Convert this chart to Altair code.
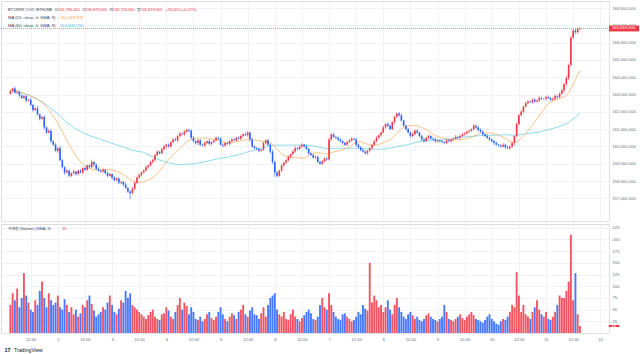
import altair as alt
import pandas as pd

# ---------------- data (prices in million KRW, wicks in 10,000 KRW) ----------------
first_open = 163.05
start_hour = 3  # first candle: day 1, 03:00 (hours counted from day 1 00:00)

closes = [
    163.20, 163.35, 163.10, 163.15, 162.95, 162.80, 162.90, 162.65, 162.70, 162.40,
    162.10, 162.20, 161.85, 161.60, 161.70, 161.10, 160.80, 160.90, 160.30, 160.10,
    159.75, 159.90, 159.20, 158.80, 158.50, 158.60, 158.30, 158.45, 158.55, 158.40,
    158.60, 158.50, 158.75, 158.65, 158.90, 158.80, 159.10, 158.95, 158.70, 158.60,
    158.55, 158.65, 158.45, 158.30, 158.40, 158.20, 158.05, 158.15, 157.90, 157.95,
    157.80, 157.60, 157.40, 157.30, 157.55, 157.90, 158.20, 158.35, 158.50, 158.60,
    158.80, 158.90, 159.10, 159.20, 159.50, 159.70, 159.60, 159.85, 160.00, 160.10,
    160.00, 160.25, 160.40, 160.35, 160.60, 160.75, 160.70, 160.85, 160.95, 160.90,
    160.50, 160.30, 160.20, 160.35, 160.10, 160.05, 160.20, 160.30, 160.15, 160.25,
    160.35, 160.50, 160.45, 160.10, 160.05, 160.20, 160.15, 160.30, 160.40, 160.35,
    160.50, 160.45, 160.60, 160.70, 160.65, 160.80, 160.40, 160.00, 159.90, 159.85,
    159.75, 159.80, 160.20, 160.35, 160.10, 159.70, 159.10, 158.50, 158.30, 158.60,
    158.90, 159.05, 159.20, 159.40, 159.55, 159.70, 159.90, 159.85, 160.00, 160.10,
    160.00, 159.85, 159.60, 159.50, 159.35, 159.40, 159.10, 159.00, 159.15, 159.30,
    159.25, 160.40, 160.70, 160.55, 160.50, 160.40, 160.30, 160.20, 160.10, 160.25,
    160.35, 160.45, 160.40, 160.10, 159.95, 159.80, 159.70, 159.60, 159.75, 159.90,
    160.10, 160.30, 160.50, 160.65, 160.80, 161.10, 161.30, 161.20, 161.00, 161.40,
    161.70, 161.90, 161.80, 161.50, 161.20, 161.00, 160.80, 160.60, 160.70, 160.90,
    160.80, 160.60, 160.40, 160.30, 160.50, 160.60, 160.45, 160.40, 160.30, 160.35,
    160.30, 160.25, 160.20, 160.35, 160.30, 160.40, 160.45, 160.55, 160.50, 160.60,
    160.70, 160.75, 160.85, 160.90, 161.00, 161.20, 161.10, 160.95, 160.85, 160.70,
    160.60, 160.50, 160.40, 160.30, 160.20, 160.10, 160.05, 160.00, 160.10, 159.95,
    159.90, 160.00, 160.20, 160.60, 161.30, 161.80, 162.00, 162.30, 162.50, 162.60,
    162.55, 162.70, 162.60, 162.65, 162.80, 162.75, 162.75, 162.85, 162.80, 162.70,
    162.75, 162.90, 162.85, 163.05, 163.25, 163.60, 163.95, 164.70, 166.30, 166.70,
    166.60, 166.786, 166.819,
]

wick_hi = [
    8, 5, 12, 6, 10, 4, 9, 7, 5, 11,
    6, 8, 14, 5, 7, 10, 6, 12, 8, 5,
    9, 6, 15, 7, 5, 10, 8, 6, 12, 4,
    7, 9, 5, 11, 6, 8, 13, 5, 7, 10,
    6, 9, 5, 12, 8, 4, 10, 7, 6, 9,
    5, 14, 8, 6, 11, 7, 5, 10, 6, 8,
    12, 5, 7, 9, 6, 10, 4, 8, 11, 6,
    7, 5, 9, 13, 6, 8, 5, 10, 7, 6,
    8, 11, 5, 7, 10, 6, 9, 4, 12, 7,
    5, 8, 6, 10, 7, 5, 9, 6, 11, 8,
    6, 9, 7, 5, 10, 8, 6, 12, 5, 7,
    9, 6, 8, 5, 10, 7, 11, 6, 8, 5,
    9, 7, 6, 10, 5, 8, 12, 6, 7, 9,
    5, 11, 8, 6, 7, 10, 5, 9, 6, 8,
    7, 10, 5, 8, 6, 9, 11, 5, 7, 6,
    8, 10, 5, 9, 7, 6, 12, 8, 5, 7,
    6, 8, 10, 5, 7, 9, 6, 11, 8, 5,
    7, 6, 9, 10, 5, 8, 7, 6, 12, 9,
    8, 5, 7, 10, 6, 9, 5, 8, 11, 7,
    6, 9, 5, 8, 10, 6, 7, 12, 5, 8,
    7, 9, 6, 8, 5, 10, 7, 6, 9, 8,
    5, 11, 7, 6, 8, 10, 5, 7, 9, 6,
    10, 6, 8, 5, 9, 7, 12, 6, 8, 10,
    5, 7, 9, 6, 11, 8, 5, 7, 10, 6,
    8, 12, 6, 7, 10, 5, 15, 9, 6, 8,
    12, 10, 6,
]

wick_lo = [
    6, 9, 5, 8, 12, 7, 5, 10, 6, 8,
    11, 5, 7, 9, 6, 13, 8, 5, 10, 7,
    6, 12, 5, 8, 15, 7, 9, 6, 5, 10,
    8, 6, 11, 5, 7, 9, 6, 12, 8, 5,
    7, 10, 6, 8, 5, 11, 7, 6, 9, 8,
    12, 6, 9, 35, 7, 5, 8, 6, 10, 7,
    5, 8, 6, 10, 7, 9, 6, 5, 8, 11,
    6, 9, 7, 5, 10, 8, 6, 9, 5, 7,
    10, 6, 8, 12, 7, 5, 9, 6, 8, 10,
    5, 7, 9, 6, 11, 8, 6, 10, 7, 5,
    8, 6, 10, 7, 5, 9, 12, 8, 6, 7,
    9, 7, 5, 8, 6, 10, 12, 25, 9, 6,
    7, 9, 6, 8, 10, 5, 7, 9, 6, 8,
    6, 8, 10, 7, 5, 9, 6, 8, 10, 7,
    9, 6, 8, 5, 7, 10, 6, 9, 7, 8,
    5, 9, 7, 10, 6, 8, 5, 7, 9, 6,
    8, 7, 9, 6, 10, 5, 8, 9, 7, 6,
    10, 6, 8, 5, 7, 9, 6, 10, 8, 5,
    6, 9, 7, 8, 5, 10, 7, 6, 9, 8,
    9, 5, 8, 7, 6, 9, 10, 5, 8, 6,
    7, 8, 6, 9, 5, 7, 8, 10, 6, 9,
    8, 6, 10, 7, 9, 6, 5, 8, 7, 10,
    6, 9, 7, 12, 8, 10, 6, 9, 7, 8,
    5, 8, 10, 7, 9, 6, 8, 10, 7, 9,
    8, 10, 12, 9, 7, 15, 10, 12, 8, 9,
    10, 8, 6,
]

volumes = [
    60, 85, 70, 95, 55, 75, 128, 80, 65, 50,
    45, 70, 60, 90, 110, 75, 55, 85, 70, 60,
    65, 80, 55, 50, 72, 60, 45, 55, 40, 50,
    35, 42, 60, 55, 70, 80, 62, 48, 35, 40,
    45, 55, 50, 65, 80, 60, 45, 40, 52, 70,
    65, 90, 75, 85, 60, 55, 50, 45, 40, 35,
    30, 38, 45, 50, 35, 30, 28, 40, 42, 55,
    48, 35, 30, 45, 60, 75, 50, 65, 58, 40,
    55, 45, 30, 28, 35, 25, 30, 40, 45, 32,
    28, 35, 45, 55, 40, 30, 25, 35, 42, 38,
    30, 45, 50, 60, 40, 35, 48, 55, 40, 38,
    30, 42, 55, 35, 60, 75, 80, 85, 50, 40,
    35, 45, 30, 28, 40, 50, 35, 30, 25, 32,
    38, 45, 50, 42, 30, 28, 35, 60, 75, 55,
    50, 85, 60, 45, 35, 30, 28, 40, 42, 35,
    30, 25, 28, 35, 45, 40, 60, 52, 48, 150,
    65, 80, 70, 55, 60, 45, 55, 70, 50, 40,
    60, 75, 55, 45, 35, 30, 40, 45, 38, 30,
    35, 28, 25, 30, 38, 42, 35, 30, 28, 25,
    30, 35, 60, 45, 30, 28, 25, 30, 35, 40,
    32, 28, 35, 40, 45, 38, 30, 28, 25, 22,
    28, 35, 40, 30, 25, 20, 18, 25, 30, 28,
    35, 45, 60, 55, 130, 80, 45, 60, 40, 35,
    30, 45, 55, 70, 50, 40, 35, 45, 30, 28,
    35, 45, 60, 80, 75, 75, 90, 110, 210, 70,
    128, 40, 15,
]

ma15_last = 164318933
ma60_last = 161849750
price_ticks = [v * 1_000_000 for v in range(157, 169)]
vol_ticks = [25, 50, 75, 100, 125, 150, 175, 200, 225]
time_ticks = list(range(12, 265, 12))

# ---------------- build table ----------------
rows = []
prev = first_open
for i, c in enumerate(closes):
    o = prev
    h = max(o, c) + wick_hi[i] / 100
    lo = min(o, c) - wick_lo[i] / 100
    rows.append(dict(t=start_hour + i, o=round(o * 1e6), h=round(h * 1e6),
                     l=round(lo * 1e6), c=round(c * 1e6), v=volumes[i],
                     up="up" if c >= o else "down"))
    prev = c
df = pd.DataFrame(rows)
last = rows[-1]
prev_close = rows[-2]["c"]
chg = last["c"] - prev_close
pct = chg / prev_close * 100

# ---------------- style ----------------
RED = "#F23645"
BLUE = "#2962FF"
MA15C = "#FF9E40"
MA60C = "#4FC3E8"
GRID = "#F0F3FA"
SEP = "#E0E3EB"
AXC = "#6A6D78"
TXT = "#3A3D48"
FONT = "Liberation Sans, Noto Sans CJK KR, sans-serif"
FS = 4.2
W, PH, VH = 608, 220, 109

xs = alt.Scale(domain=[1.07, 265.65], nice=False, zero=False)
ys = alt.Scale(domain=[155.69e6, 168.405e6], nice=False, zero=False)
vs = alt.Scale(domain=[0, 233], nice=False, zero=True)
cs = alt.Scale(domain=["up", "down"], range=[RED, BLUE])

x_axis_p = alt.Axis(values=time_ticks, labels=False, ticks=False, domain=True,
                    domainColor=SEP, domainWidth=1, grid=True, gridColor=GRID,
                    title=None, minExtent=0, maxExtent=0)
y_axis_p = alt.Axis(orient="right", values=price_ticks, labelExpr="format(datum.value, ',')",
                    ticks=False, domain=True, domainColor=SEP, grid=True, gridColor=GRID,
                    labelFontSize=FS, labelColor=AXC, labelPadding=3, labelFont=FONT, title=None)
XP = alt.X("t:Q", scale=xs, axis=x_axis_p)
COL = alt.Color("up:N", scale=cs, legend=None)

base = alt.Chart(df)
wicks = base.mark_rule(strokeWidth=0.6).encode(
    x=XP, y=alt.Y("l:Q", scale=ys, axis=y_axis_p), y2="h:Q", color=COL)
bodies = base.mark_bar(size=1.6).encode(
    x=XP, y=alt.Y("o:Q", scale=ys, axis=y_axis_p), y2="c:Q", color=COL)
ma15 = base.transform_window(ma15="mean(c)", frame=[-14, 0], sort=[alt.SortField("t")]).mark_line(
    strokeWidth=0.8, color=MA15C, opacity=0.8).encode(x=XP, y=alt.Y("ma15:Q", scale=ys, axis=y_axis_p))
ma60 = base.transform_window(ma60="mean(c)", frame=[-59, 0], sort=[alt.SortField("t")]).mark_line(
    strokeWidth=0.8, color=MA60C, opacity=0.8).encode(x=XP, y=alt.Y("ma60:Q", scale=ys, axis=y_axis_p))

lastdf = pd.DataFrame({"p": [last["c"]]})
pline = alt.Chart(lastdf).mark_rule(strokeDash=[1, 1], color=RED, strokeWidth=0.6).encode(
    y=alt.Y("p:Q", scale=ys, axis=y_axis_p), x=alt.value(0), x2=alt.value(W))
BOX = "M-1,-0.2L1,-0.2L1,0.2L-1,0.2Z"
pbox = alt.Chart(lastdf).mark_point(shape=BOX, filled=True, opacity=1, size=900, color=RED).encode(
    y=alt.Y("p:Q", scale=ys, axis=y_axis_p), x=alt.value(W + 15))
ptxt = alt.Chart(lastdf).mark_text(align="left", baseline="middle", color="white", fontSize=FS, font=FONT).encode(
    y=alt.Y("p:Q", scale=ys, axis=y_axis_p), x=alt.value(W + 3), text=alt.Text("p:Q", format=","))

one = pd.DataFrame({"a": [0]})


def label(txt, x, y, color=TXT, size=FS, weight="normal"):
    return alt.Chart(one).mark_text(text=txt, align="left", baseline="middle", color=color,
                                    fontSize=size, font=FONT, fontWeight=weight).encode(
        x=alt.value(x), y=alt.value(y))


fmt = lambda v: f"{v:,}"
header = [
    label("BTC/KRW, 1시간, BITHUMB", 7, 9, size=3.5),
    label("시", 53.5, 9, size=3.8), label(fmt(last["o"]), 57, 9, RED, 3.9),
    label("고", 81, 9, size=3.8), label(fmt(last["h"]), 84.5, 9, RED, 3.9),
    label("저", 108.5, 9, size=3.8), label(fmt(last["l"]), 112, 9, RED, 3.9),
    label("종", 136, 9, size=3.8), label(fmt(last["c"]), 139.5, 9, RED, 3.9),
    label(f"{chg:+,} ({pct:+.2f}%)", 164.5, 9, RED, 3.9),
    label("MA (15, close, 0, SMA, 9)", 7, 17.3), label(fmt(ma15_last), 59, 17.3, MA15C),
    label("MA (60, close, 0, SMA, 9)", 7, 25.4), label(fmt(ma60_last), 59, 25.4, MA60C),
]

price = alt.layer(wicks, ma60, ma15, bodies, pline, pbox, ptxt, *header).properties(width=W, height=PH)

# ---------------- volume pane ----------------
x_axis_v = alt.Axis(values=time_ticks, labelExpr="datum.value % 24 == 0 ? toString(datum.value / 24 + 1) : '12:00'",
                    ticks=False, domain=True, domainColor=SEP, grid=True, gridColor=GRID,
                    labelFontSize=FS, labelColor=AXC, labelPadding=4, labelFont=FONT, title=None)
y_axis_v = alt.Axis(orient="right", values=vol_ticks, ticks=False, domain=True, domainColor=SEP,
                    grid=True, gridColor=GRID, labelFontSize=FS, labelColor=AXC, labelPadding=3,
                    labelFont=FONT, title=None)
XV = alt.X("t:Q", scale=xs, axis=x_axis_v)
vbars = base.mark_bar(size=1.9, opacity=0.85).encode(
    x=XV, y=alt.Y("v:Q", scale=vs, axis=y_axis_v), color=COL)
vlast = pd.DataFrame({"v": [volumes[-1]]})
vbox = alt.Chart(vlast).mark_point(shape=BOX, filled=True, opacity=1, size=110, color=RED).encode(
    y=alt.Y("v:Q", scale=vs, axis=y_axis_v), x=alt.value(W + 5))
vtxt = alt.Chart(vlast).mark_text(align="left", baseline="middle", color="white", fontSize=FS, font=FONT).encode(
    y=alt.Y("v:Q", scale=vs, axis=y_axis_v), x=alt.value(W + 2.5), text="v:Q")
vheader = [
    label("거래량 (Volume) (SMA, 9)", 7, 5, size=3.8),
    label(str(volumes[-1]), 61, 5, RED),
    label("17", 3.5, VH + 17, "#131722", 5.5, "bold"),
    label("TradingView", 13, VH + 17, "#131722", 5.2),
]
vol = alt.layer(vbars, vbox, vtxt, *vheader).properties(width=W, height=VH)

chart = alt.vconcat(price, vol, spacing=1).properties(
    padding=0, background="white"
).configure_view(stroke=None).configure(font=FONT)

chart.save("out.html", embed_options={"renderer": "svg", "actions": False})
